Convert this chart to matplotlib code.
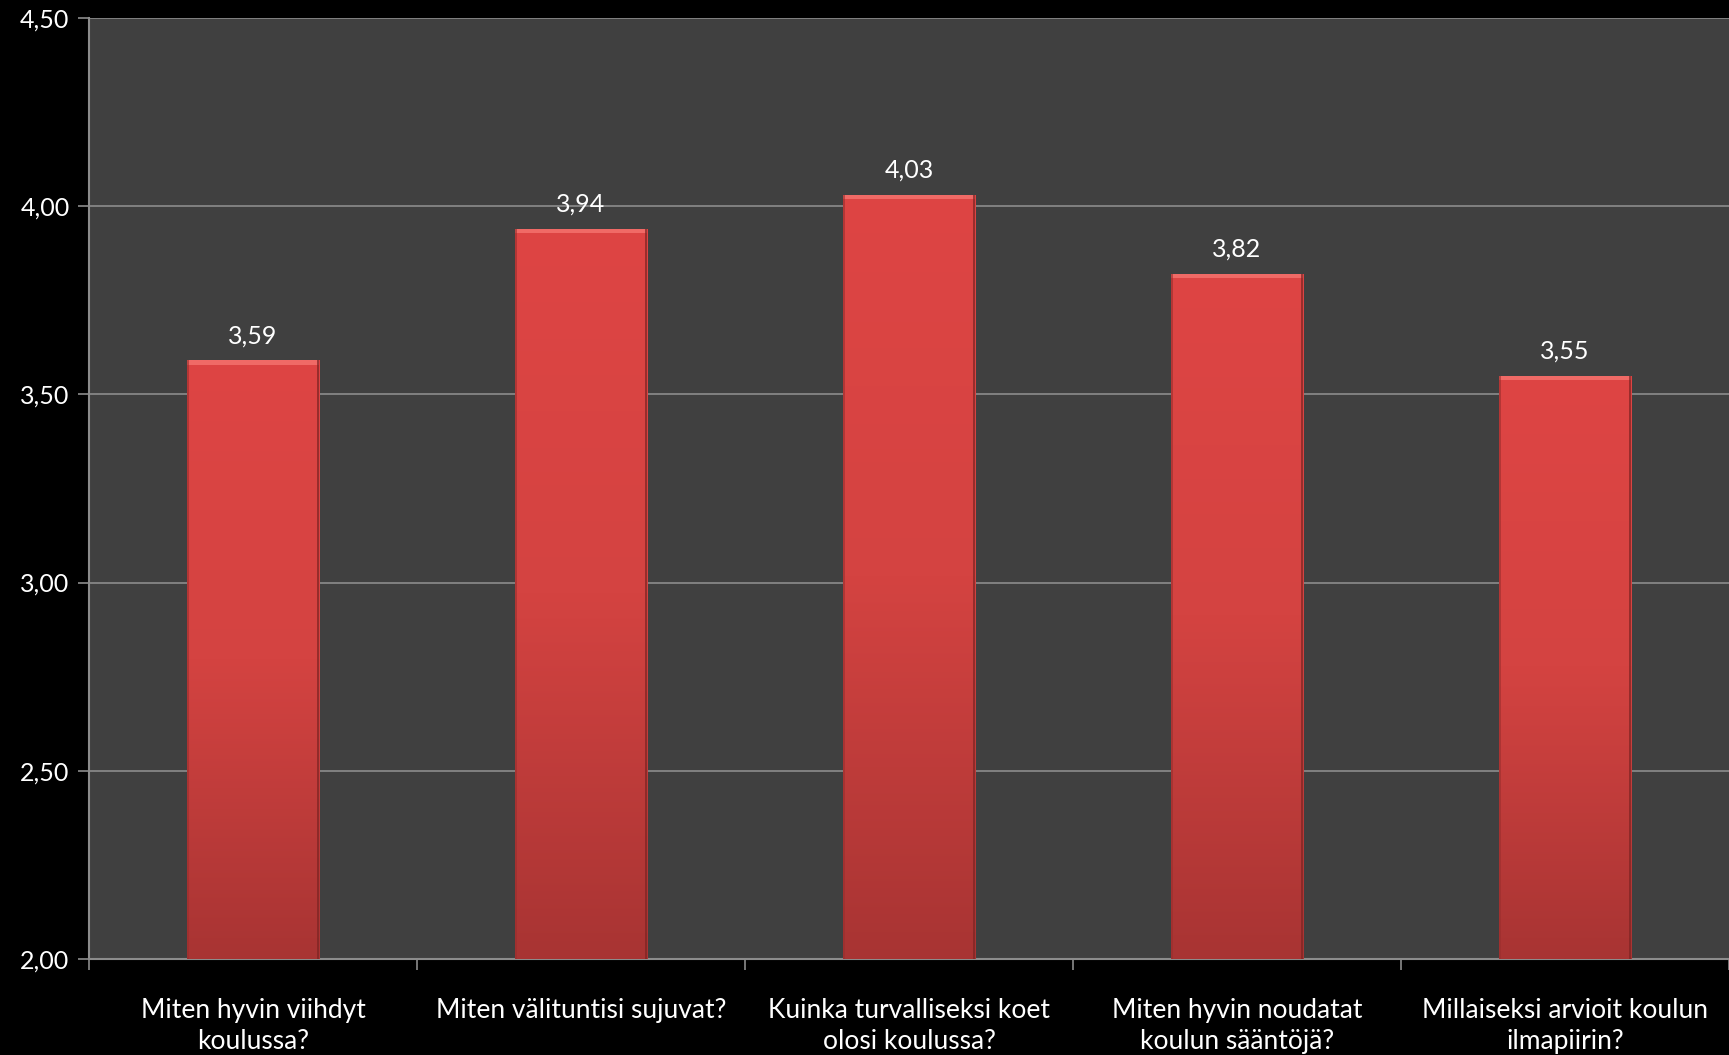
import numpy as np
import matplotlib.pyplot as plt
from matplotlib.colors import LinearSegmentedColormap

# Kyselyn keskiarvot
kysymykset = [
    "Miten hyvin viihdyt\nkoulussa?",
    "Miten välituntisi sujuvat?",
    "Kuinka turvalliseksi koet\nolosi koulussa?",
    "Miten hyvin noudatat\nkoulun sääntöjä?",
    "Millaiseksi arvioit koulun\nilmapiirin?",
]
keskiarvot = [3.59, 3.94, 4.03, 3.82, 3.55]
y_ticks = [2.00, 2.50, 3.00, 3.50, 4.00, 4.50]

plt.rcParams['font.family'] = ['Lato', 'DejaVu Sans']

fig = plt.figure(figsize=(17.29, 10.55), dpi=100, facecolor='black')
ax = fig.add_axes([0.0515, 0.091, 0.9485, 0.892])
ax.set_facecolor('#404040')

x = np.arange(len(keskiarvot))
bar_w = 0.405
bars = ax.bar(x, np.array(keskiarvot) - 2.0, bottom=2.0, width=bar_w,
              color='#c93c3a', edgecolor='none', zorder=3)

# pystysuuntainen liukuväri palkkeihin (ylhäällä vaaleampi)
cmap = LinearSegmentedColormap.from_list('punainen', ['#de4544', '#d44341', '#a83433'])
grad = np.linspace(0, 1, 256).reshape(-1, 1)
for b in bars:
    x0, y0 = b.get_x(), b.get_y()
    w, h = b.get_width(), b.get_height()
    im = ax.imshow(grad, cmap=cmap, aspect='auto', origin='upper',
                   extent=(x0, x0 + w, y0, y0 + h), zorder=4)
    im.set_clip_path(b)
    # yläreunan viiste
    ax.fill_between([x0, x0 + w], y0 + h - 0.012, y0 + h, color='#f06a66', zorder=5, lw=0)
    # sivujen varjot
    ax.fill_between([x0, x0 + 0.006], y0, y0 + h, color='#9a2e2d', alpha=0.6, zorder=5, lw=0)
    ax.fill_between([x0 + w - 0.006, x0 + w], y0, y0 + h, color='#7c2423', alpha=0.7, zorder=5, lw=0)

for xi, v in zip(x, keskiarvot):
    ax.text(xi, v + 0.035, f"{v:.2f}".replace('.', ','), ha='center', va='bottom',
            color='white', fontsize=18, zorder=6)

ax.set_xlim(-0.5, len(keskiarvot) - 0.5)
ax.set_ylim(2.0, 4.5)
ax.set_yticks(y_ticks)
ax.set_yticklabels([f"{t:.2f}".replace('.', ',') for t in y_ticks], color='white', fontsize=18)
ax.yaxis.grid(True, color='#8c8c8c', linewidth=1.2, zorder=1)
ax.set_axisbelow(True)

# rajat kategorioiden välissä, nimet keskellä
ax.set_xticks(np.arange(-0.5, len(keskiarvot), 1.0))
ax.set_xticklabels([])
ax.set_xticks(x, minor=True)
ax.set_xticklabels(kysymykset, minor=True, color='white', fontsize=19, linespacing=1.3)
ax.tick_params(axis='x', which='minor', length=0, pad=28)
ax.tick_params(axis='x', which='major', length=8, color='#8c8c8c', width=1.2)
ax.tick_params(axis='y', length=8, color='#8c8c8c', width=1.2, pad=6)

for s in ['top', 'right']:
    ax.spines[s].set_visible(False)
for s in ['left', 'bottom']:
    ax.spines[s].set_color('#8c8c8c')
    ax.spines[s].set_linewidth(1.5)

fig.savefig('out.png', dpi=100, facecolor='black')
